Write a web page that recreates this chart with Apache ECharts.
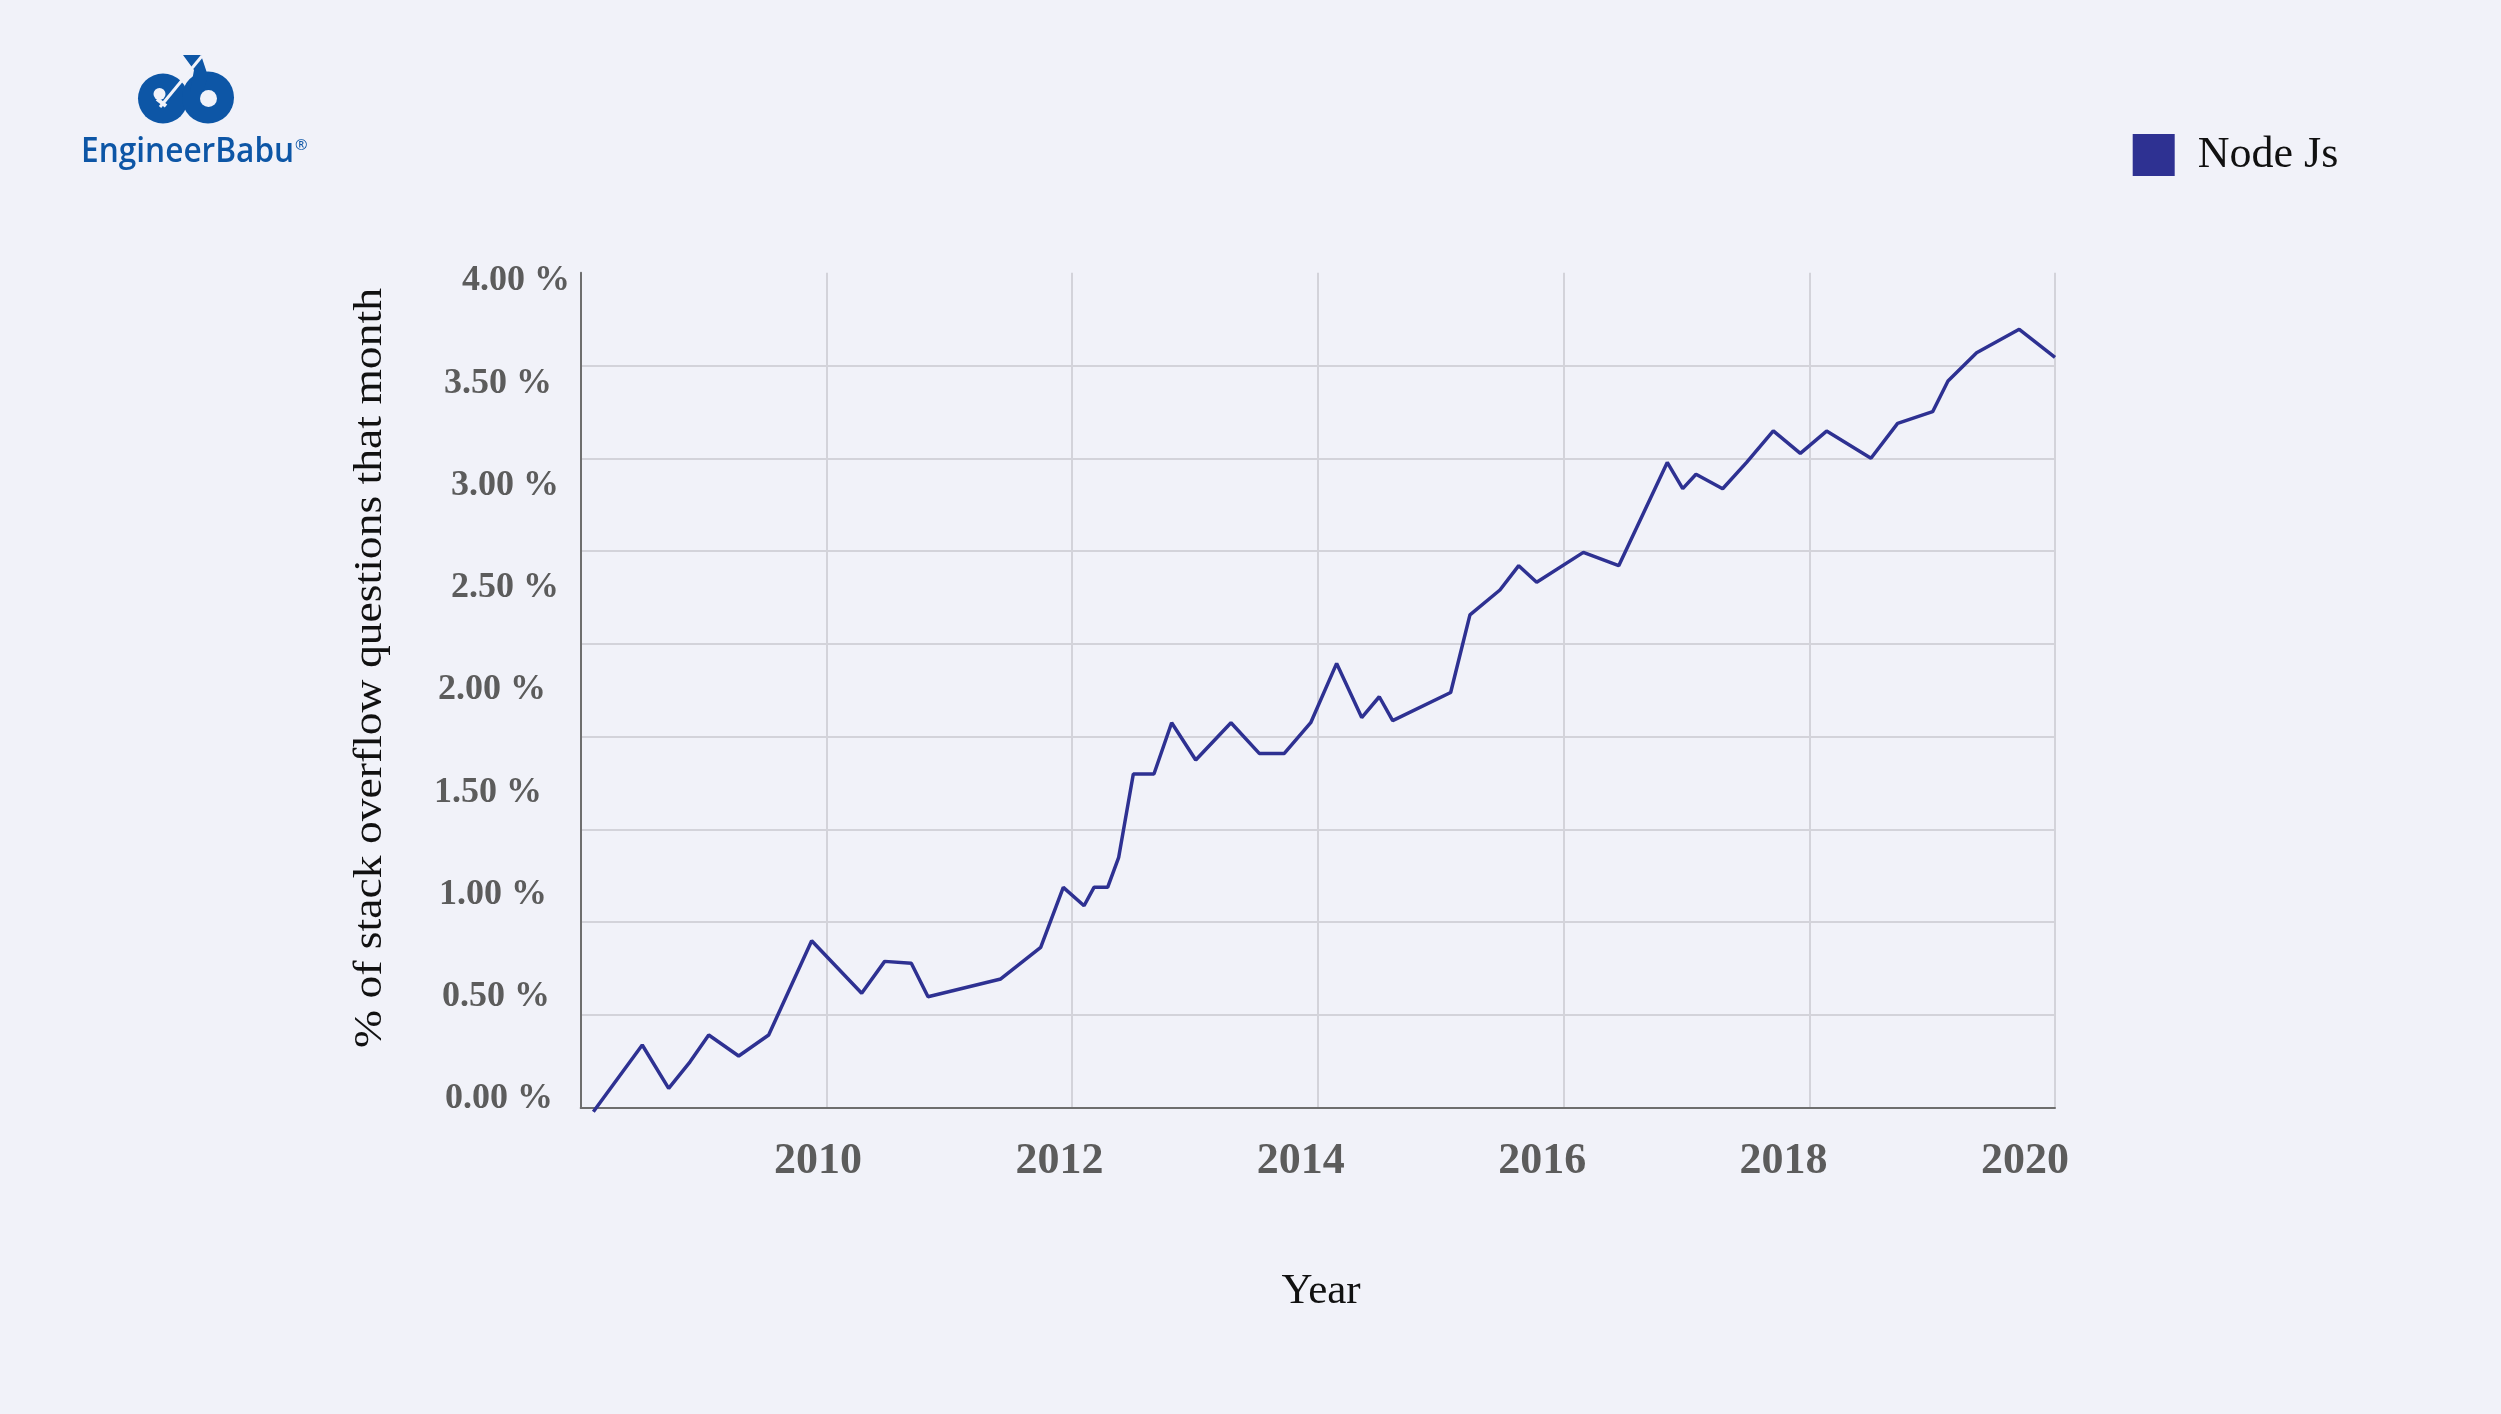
<!DOCTYPE html>
<html>
<head>
<meta charset="utf-8">
<script src="https://cdn.jsdelivr.net/npm/echarts@6/dist/echarts.min.js"></script>
<style>
html,body{margin:0;padding:0;background:#f1f2f9;}
#chart{width:2501px;height:1414px;}
</style>
</head>
<body>
<div id="chart"></div>
<script>
// ---- data ----
const seriesName = 'Node Js';
const years = [2008.103, 2008.501, 2008.716, 2008.890, 2009.042, 2009.286, 2009.530, 2009.880,
  2010.287, 2010.474, 2010.691, 2010.827, 2011.419, 2011.744, 2011.928, 2012.097, 2012.178,
  2012.289, 2012.379, 2012.498, 2012.666, 2012.810, 2013.006, 2013.293, 2013.523, 2013.727,
  2013.942, 2014.153, 2014.357, 2014.500, 2014.609, 2015.081, 2015.238, 2015.482, 2015.635,
  2015.781, 2016.161, 2016.449, 2016.844, 2016.970, 2017.078, 2017.295, 2017.490, 2017.707,
  2017.927, 2018.141, 2018.502, 2018.719, 2019.004, 2019.129, 2019.362, 2019.709, 2020.000];
const share = [-0.062, 0.264, 0.052, 0.182, 0.313, 0.210, 0.313, 0.774,
  0.517, 0.673, 0.664, 0.500, 0.587, 0.742, 1.035, 0.945, 1.035,
  1.035, 1.182, 1.589, 1.589, 1.840, 1.658, 1.840, 1.690, 1.690,
  1.840, 2.130, 1.865, 1.967, 1.850, 1.988, 2.367, 2.489, 2.608,
  2.527, 2.673, 2.608, 3.113, 2.985, 3.055, 2.984, 3.113, 3.267,
  3.157, 3.266, 3.133, 3.304, 3.361, 3.511, 3.649, 3.764, 3.627];
const yTickLabels = ['0.00 %', '0.50 %', '1.00 %', '1.50 %', '2.00 %', '2.50 %', '3.00 %', '3.50 %', '4.00 %'];
const xTickLabels = ['2008', '2010', '2012', '2014', '2016', '2018', '2020'];
const xTitle = 'Year';
const yTitle = '% of stack overflow questions that month';
const brand = 'EngineerBabu';

// ---- styles ----
const LINE = '#2e3192';
const GRIDC = '#d3d3da';
const AXISC = '#6e6e6e';
const LABELC = '#5c5c5c';
const BG = '#f1f2f9';
const LOGO = '#0d56a6';
const SERIF = '"Liberation Serif", "Times New Roman", serif';
const yLabelShift = [17, 20, 23, 28, 24, 11, 11, 18, 0];

const rich = {};
yLabelShift.forEach((s, i) => {
  rich['p' + i] = {padding: [0, s, 0, 0], fontSize: 36, fontFamily: SERIF, fontWeight: 'bold', color: LABELC};
});

const chart = echarts.init(document.getElementById('chart'), null, {renderer: 'canvas'});

const pts = years.map((y, i) => [y, share[i]]);

const option = {
  backgroundColor: BG,
  animation: false,
  grid: [
    // 0: series + y labels
    {left: 580.7, right: 446, top: 281, bottom: 315, containLabel: false, outerBoundsMode: 'none'},
    // 1: grid lines and axis lines
    {left: 580.7, right: 446, top: 272.7, bottom: 306.3, containLabel: false, outerBoundsMode: 'none'},
    // 2: x tick labels
    {left: 576.6, right: 476, top: 272.7, bottom: 306.3, containLabel: false, outerBoundsMode: 'none'}
  ],
  xAxis: [
    {gridIndex: 0, type: 'value', min: 2008, max: 2020, show: false},
    {gridIndex: 1, type: 'value', min: 2008, max: 2020, interval: 2,
      axisLine: {show: true, lineStyle: {color: AXISC, width: 2}},
      axisTick: {show: false}, axisLabel: {show: false},
      splitLine: {show: true, lineStyle: {color: GRIDC, width: 2}}},
    {gridIndex: 2, type: 'value', min: 2008, max: 2020, interval: 2,
      axisLine: {show: false}, axisTick: {show: false}, splitLine: {show: false},
      axisLabel: {show: true, showMinLabel: false, margin: 54, verticalAlign: 'middle',
        fontSize: 44, fontFamily: SERIF, fontWeight: 'bold', color: LABELC,
        formatter: v => xTickLabels[Math.round((v - 2008) / 2)]}}
  ],
  yAxis: [
    {gridIndex: 0, type: 'value', min: 0, max: 4, interval: 0.5,
      axisLine: {show: false}, axisTick: {show: false}, splitLine: {show: false},
      axisLabel: {show: true, margin: 10.7, align: 'right',
        fontSize: 36, fontFamily: SERIF, fontWeight: 'bold', color: LABELC,
        formatter: v => { const i = Math.round(v / 0.5); return '{p' + i + '|' + yTickLabels[i] + '}'; },
        rich: rich}},
    {gridIndex: 1, type: 'value', min: 0, max: 9, interval: 1,
      axisLine: {show: true, lineStyle: {color: AXISC, width: 2}},
      axisTick: {show: false}, axisLabel: {show: false},
      splitLine: {show: true, showMaxLine: false, lineStyle: {color: GRIDC, width: 2}}},
    {gridIndex: 2, type: 'value', min: 0, max: 9, show: false}
  ],
  legend: {
    show: true, data: [seriesName], left: 2132.7, top: 133, icon: 'rect',
    itemWidth: 42, itemHeight: 42, padding: 0,
    textStyle: {fontSize: 44, fontFamily: SERIF, color: '#111', padding: [0, 0, 0, 18]}
  },
  series: [{
    name: seriesName, type: 'line', xAxisIndex: 0, yAxisIndex: 0,
    data: pts, symbol: 'none', clip: false,
    itemStyle: {color: LINE},
    lineStyle: {color: LINE, width: 3.5}
  }],
  graphic: [
    {type: 'text', x: 370, y: 668, rotation: Math.PI / 2, scaleX: 1.14,
      style: {text: yTitle, fontSize: 40, fontFamily: SERIF, fill: '#111',
        textAlign: 'center', textVerticalAlign: 'middle'}},
    {type: 'text', x: 1321, y: 1292,
      style: {text: xTitle, fontSize: 43, fontFamily: SERIF, fill: '#111',
        textAlign: 'center', textVerticalAlign: 'middle'}},
    // logo mark
    {type: 'circle', shape: {cx: 163, cy: 98.5, r: 25}, style: {fill: LOGO}},
    {type: 'circle', shape: {cx: 208, cy: 97.5, r: 26}, style: {fill: LOGO}},
    {type: 'polygon', shape: {points: [[183, 55], [201, 55], [208, 76], [203, 92], [190, 92], [194, 70]]}, style: {fill: LOGO}},
    {type: 'circle', shape: {cx: 208.5, cy: 98.5, r: 8.5}, style: {fill: BG}},
    {type: 'circle', shape: {cx: 159.5, cy: 94, r: 6}, style: {fill: BG}},
    {type: 'line', shape: {x1: 157, y1: 99, x2: 166, y2: 106}, style: {stroke: BG, lineWidth: 4}},
    {type: 'line', shape: {x1: 160, y1: 107, x2: 202, y2: 56}, style: {stroke: BG, lineWidth: 3}},
    {type: 'text', x: 81, y: 152, scaleX: 0.93,
      style: {text: brand, fontSize: 34, fontFamily: '"Open Sans"', fontWeight: 600, fill: LOGO,
        textAlign: 'left', textVerticalAlign: 'middle'}},
    {type: 'text', x: 295, y: 138,
      style: {text: '®', fontSize: 15, fontFamily: '"Open Sans"', fill: LOGO,
        textAlign: 'left', textVerticalAlign: 'top'}}
  ]
};
chart.setOption(option);
</script>
</body>
</html>
